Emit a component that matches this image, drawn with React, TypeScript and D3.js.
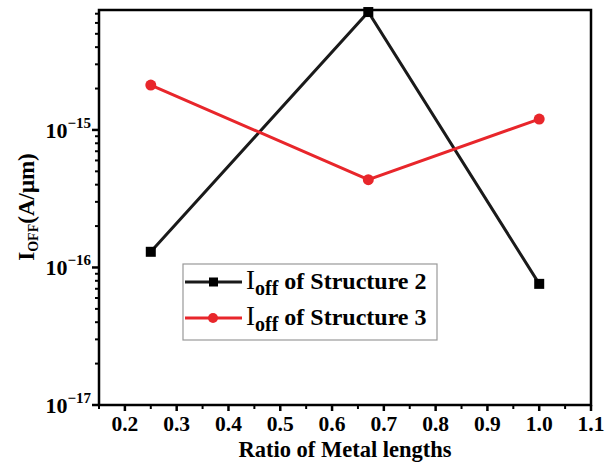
import React from "react";
import * as d3 from "d3";

const ratios = [0.25, 0.67, 1.0];
const ioffStructure2 = [1.3e-16, 7.2e-15, 7.6e-17];
const ioffStructure3 = [2.12e-15, 4.35e-16, 1.2e-15];
const xTicks = [0.2, 0.3, 0.4, 0.5, 0.6, 0.7, 0.8, 0.9, 1.0, 1.1];
const yExponents = [-17, -16, -15];
const seriesNames = ["Structure 2", "Structure 3"];

const W = 613;
const H = 462;
const M = { left: 99, right: 591, top: 10, bottom: 405 };

export default function App() {
  const x = d3.scaleLinear().domain([0.15, 1.1]).range([M.left, M.right]);
  const y = d3.scaleLog().domain([1e-17, 7.45e-15]).range([M.bottom, M.top]);

  const line = d3
    .line<number>()
    .x((_, i) => x(ratios[i]))
    .y((d) => y(d));

  // minor log ticks 2..9 per decade, clipped to the visible domain
  const minorY: number[] = [];
  for (let e = -17; e <= -15; e++) {
    for (let m = 2; m <= 9; m++) {
      const v = m * Math.pow(10, e);
      if (v <= y.domain()[1]) minorY.push(v);
    }
  }
  const minorX = d3.range(0, 10).map((i) => 0.15 + i * 0.1);

  return (
    <svg
      width={W}
      height={H}
      style={{ position: "absolute", left: 0, top: 0, fontFamily: "Liberation Serif, Times New Roman, serif", fontWeight: 700 }}
    >
      <rect width={W} height={H} fill="#fff" />

      {/* data lines */}
      <path d={line(ioffStructure2) || ""} fill="none" stroke="#1a1a1a" strokeWidth={3} />
      <path d={line(ioffStructure3) || ""} fill="none" stroke="#e8262b" strokeWidth={3} />
      {ioffStructure2.map((v, i) => (
        <rect key={"s2" + i} x={x(ratios[i]) - 5} y={y(v) - 5} width={10} height={10} fill="#000" />
      ))}
      {ioffStructure3.map((v, i) => (
        <circle key={"s3" + i} cx={x(ratios[i])} cy={y(v)} r={5.5} fill="#e8262b" />
      ))}

      {/* frame */}
      <rect
        x={M.left}
        y={M.top}
        width={M.right - M.left}
        height={M.bottom - M.top}
        fill="none"
        stroke="#000"
        strokeWidth={2.5}
      />

      {/* y axis ticks */}
      {yExponents.map((e) => (
        <g key={"ye" + e}>
          <line x1={M.left - 7} x2={M.left} y1={y(Math.pow(10, e))} y2={y(Math.pow(10, e))} stroke="#000" strokeWidth={2.5} />
          <text x={M.left - 8} y={y(Math.pow(10, e)) + 8} textAnchor="end" style={{ fontSize: "22px" }}>
            10
            <tspan dy={-10} style={{ fontSize: "15px" }}>
              {"\u2212" + Math.abs(e)}
            </tspan>
          </text>
        </g>
      ))}
      {minorY.map((v, i) => (
        <line key={"ym" + i} x1={M.left - 4} x2={M.left} y1={y(v)} y2={y(v)} stroke="#000" strokeWidth={2} />
      ))}

      {/* x axis ticks */}
      {xTicks.map((t) => (
        <g key={"xt" + t}>
          <line x1={x(t)} x2={x(t)} y1={M.bottom} y2={M.bottom + 6} stroke="#000" strokeWidth={2.5} />
          <text x={x(t)} y={431} textAnchor="middle" style={{ fontSize: "21.5px" }}>
            {t.toFixed(1)}
          </text>
        </g>
      ))}
      {minorX.map((t, i) => (
        <line key={"xm" + i} x1={x(t)} x2={x(t)} y1={M.bottom} y2={M.bottom + 4} stroke="#000" strokeWidth={2} />
      ))}

      {/* axis titles */}
      <text x={(M.left + M.right) / 2} y={457} textAnchor="middle" style={{ fontSize: "22.5px" }}>
        Ratio of Metal lengths
      </text>
      <text transform={`translate(34, 207) rotate(-90)`} textAnchor="middle" style={{ fontSize: "23px" }}>
        I
        <tspan dy={4} style={{ fontSize: "14px" }}>OFF</tspan>
        <tspan dy={-4}>(A/μm)</tspan>
      </text>

      {/* legend */}
      <rect x={183} y={264} width={254} height={76} fill="#fff" stroke="#999" strokeWidth={1.2} />
      {seriesNames.map((name, i) => {
        const cy = 282 + i * 36;
        const color = i === 0 ? "#1a1a1a" : "#e8262b";
        return (
          <g key={name}>
            <line x1={185} x2={242} y1={cy} y2={cy} stroke={color} strokeWidth={3} />
            {i === 0 ? (
              <rect x={209} y={cy - 4.5} width={9} height={9} fill="#000" />
            ) : (
              <circle cx={213} cy={cy} r={5} fill={color} />
            )}
            <text x={246} y={cy + 7} style={{ fontSize: "24px" }}>
              <tspan style={{ fontSize: "27px", fontWeight: 400 }}>I</tspan>
              <tspan dy={6} style={{ fontSize: "20px" }}>off</tspan>
              <tspan dy={-6}>{" of " + name}</tspan>
            </text>
          </g>
        );
      })}
    </svg>
  );
}
